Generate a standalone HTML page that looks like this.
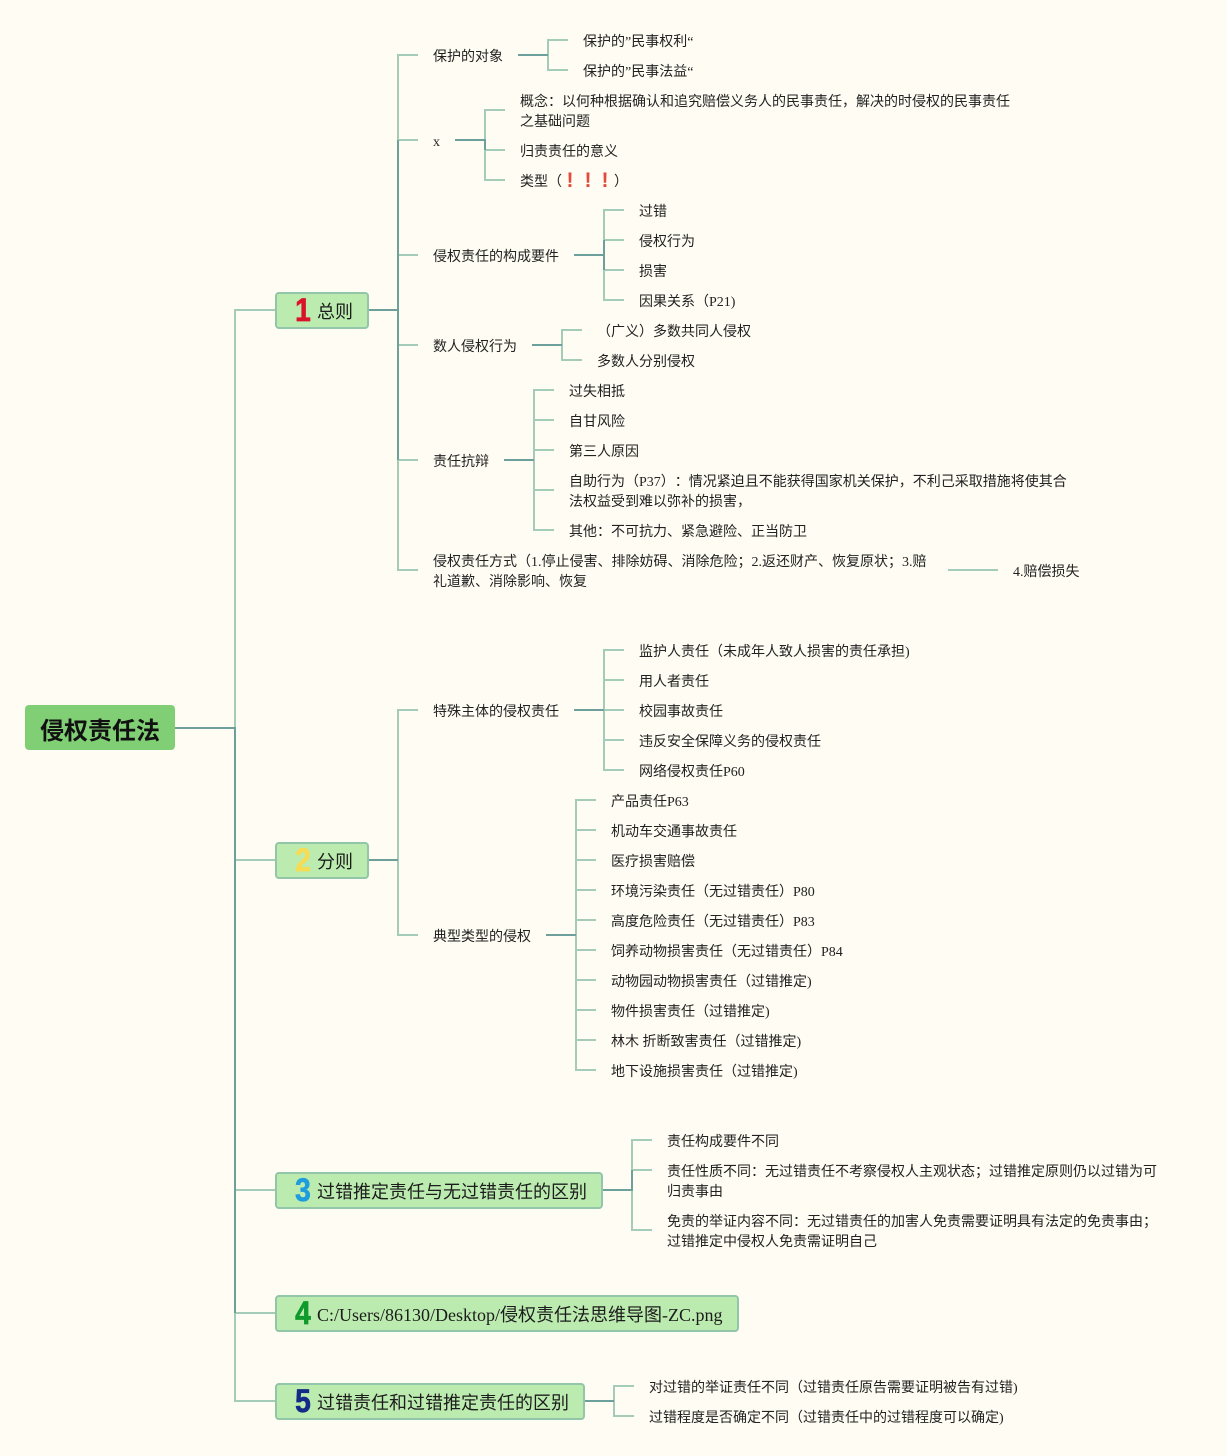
<!DOCTYPE html>
<html lang="zh"><head><meta charset="utf-8"><title>侵权责任法</title>
<style>
html,body{margin:0;padding:0}
body{width:1227px;height:1456px;background:#fffcf3;position:relative;overflow:hidden;font-family:"Liberation Serif","Noto Sans CJK SC",serif;color:#222;text-spacing-trim:space-all;font-kerning:none}
svg{position:absolute;left:0;top:0}
.t{position:absolute;font-size:14px;line-height:20px;white-space:nowrap;margin-top:2px}
.b{position:absolute;box-sizing:border-box;height:36.5px;background:#bcebb0;border:2px solid #93c6a8;border-radius:4px}
.h{position:absolute;font-size:18px;line-height:26px;white-space:nowrap;color:#1c1c1c}
.n{position:absolute;font-family:"Liberation Sans",sans-serif;font-weight:bold;font-size:32px;line-height:36px;width:20px;text-align:center;-webkit-text-stroke:.7px currentColor;transform:scaleX(.88)}
.e{position:absolute;color:#e24a3c;font:bold 21px/20px "Liberation Sans",sans-serif}
</style></head><body>
<svg width="1227" height="1456" fill="none" stroke-width="2">
<g stroke="#a5cbb9">
<path d="M235 728V310H275M235 860H275M235 1190H275M235 1313H275M235 1313V1401H275"/>
<path d="M418 55H398V140H418M398 255H418M398 345H418M418 570H398V460H418"/>
<path d="M568 40H548V70H568"/>
<path d="M505 110H485V180H505M485 150H505"/>
<path d="M624 210H604V300H624M604 240H624M604 270H624"/>
<path d="M582 330H562V360H582"/>
<path d="M554 390H534V530H554M534 420H554M534 450H554M534 490H554"/>
<path d="M948 570H998"/>
<path d="M418 710H398V935H418"/>
<path d="M624 650H604V770H624M604 680H624M604 710H624M604 740H624"/>
<path d="M596 800H576V1070H596M576 830H596M576 860H596M576 890H596M576 920H596M576 950H596M576 980H596M576 1010H596M576 1040H596"/>
<path d="M652 1140H632V1230H652M632 1170H652"/>
<path d="M634 1386H614V1416H634"/>
</g>
<g stroke="#6da09a">
<path d="M175 728H235V1313"/>
<path d="M368 310H398M398 140V460"/>
<path d="M518 55H548"/>
<path d="M455 140H485V150"/>
<path d="M574 255H604M604 240V270"/>
<path d="M532 345H562"/>
<path d="M504 460H534"/>
<path d="M368 860H398"/>
<path d="M574 710H604"/>
<path d="M546 935H576"/>
<path d="M602 1190H632V1170"/>
<path d="M584 1401H614"/>
</g>
</svg>

<div style="position:absolute;left:25px;top:705px;width:150px;height:45px;background:#80cf74;border-radius:4px"></div>
<div style="position:absolute;left:25px;top:705px;width:150px;text-align:center;font-size:24px;line-height:47px;font-weight:bold;color:#111;font-family:'Noto Sans CJK SC',sans-serif">侵权责任法</div>

<div class="b" style="left:275px;top:292px;width:93.5px"></div>
<div class="n" style="left:293px;top:292px;color:#d9142a">1</div>
<div class="h" style="left:317px;top:299px">总则</div>

<div class="b" style="left:275px;top:842px;width:93.5px"></div>
<div class="n" style="left:293px;top:842px;color:#f6dc55">2</div>
<div class="h" style="left:317px;top:849px">分则</div>

<div class="b" style="left:275px;top:1172px;width:327.5px"></div>
<div class="n" style="left:293px;top:1172px;color:#1f9cdb">3</div>
<div class="h" style="left:317px;top:1179px">过错推定责任与无过错责任的区别</div>

<div class="b" style="left:275px;top:1295px;width:463.5px"></div>
<div class="n" style="left:293px;top:1295px;color:#0f9a2c">4</div>
<div class="h" style="left:317px;top:1302px">C:/Users/86130/Desktop/侵权责任法思维导图-ZC.png</div>

<div class="b" style="left:275px;top:1383px;width:309.5px"></div>
<div class="n" style="left:293px;top:1383px;color:#152a86">5</div>
<div class="h" style="left:317px;top:1390px">过错责任和过错推定责任的区别</div>

<div class="t" style="left:433px;top:46px">保护的对象</div>
<div class="t" style="left:583px;top:31px">保护的”民事权利“</div>
<div class="t" style="left:583px;top:61px">保护的”民事法益“</div>
<div class="t" style="left:433px;top:131px">x</div>
<div class="t" style="left:520px;top:91px">概念：以何种根据确认和追究赔偿义务人的民事责任，解决的时侵权的民事责任<br>之基础问题</div>
<div class="t" style="left:520px;top:141px">归责责任的意义</div>
<div class="t" style="left:520px;top:171px">类型（</div>
<div class="e" style="left:566.5px;top:171px">!</div>
<div class="e" style="left:584.5px;top:171px">!</div>
<div class="e" style="left:601.5px;top:171px">!</div>
<div class="t" style="left:614px;top:171px">）</div>
<div class="t" style="left:433px;top:246px">侵权责任的构成要件</div>
<div class="t" style="left:639px;top:201px">过错</div>
<div class="t" style="left:639px;top:231px">侵权行为</div>
<div class="t" style="left:639px;top:261px">损害</div>
<div class="t" style="left:639px;top:291px">因果关系（P21)</div>
<div class="t" style="left:433px;top:336px">数人侵权行为</div>
<div class="t" style="left:597px;top:321px">（广义）多数共同人侵权</div>
<div class="t" style="left:597px;top:351px">多数人分别侵权</div>
<div class="t" style="left:433px;top:451px">责任抗辩</div>
<div class="t" style="left:569px;top:381px">过失相抵</div>
<div class="t" style="left:569px;top:411px">自甘风险</div>
<div class="t" style="left:569px;top:441px">第三人原因</div>
<div class="t" style="left:569px;top:471px">自助行为（P37）：情况紧迫且不能获得国家机关保护，不利己采取措施将使其合<br>法权益受到难以弥补的损害，</div>
<div class="t" style="left:569px;top:521px">其他：不可抗力、紧急避险、正当防卫</div>
<div class="t" style="left:433px;top:551px">侵权责任方式（1.停止侵害、排除妨碍、消除危险；2.返还财产、恢复原状；3.赔<br>礼道歉、消除影响、恢复</div>
<div class="t" style="left:1013px;top:561px">4.赔偿损失</div>

<div class="t" style="left:433px;top:701px">特殊主体的侵权责任</div>
<div class="t" style="left:639px;top:641px">监护人责任（未成年人致人损害的责任承担)</div>
<div class="t" style="left:639px;top:671px">用人者责任</div>
<div class="t" style="left:639px;top:701px">校园事故责任</div>
<div class="t" style="left:639px;top:731px">违反安全保障义务的侵权责任</div>
<div class="t" style="left:639px;top:761px">网络侵权责任P60</div>
<div class="t" style="left:433px;top:926px">典型类型的侵权</div>
<div class="t" style="left:611px;top:791px">产品责任P63</div>
<div class="t" style="left:611px;top:821px">机动车交通事故责任</div>
<div class="t" style="left:611px;top:851px">医疗损害赔偿</div>
<div class="t" style="left:611px;top:881px">环境污染责任（无过错责任）P80</div>
<div class="t" style="left:611px;top:911px">高度危险责任（无过错责任）P83</div>
<div class="t" style="left:611px;top:941px">饲养动物损害责任（无过错责任）P84</div>
<div class="t" style="left:611px;top:971px">动物园动物损害责任（过错推定)</div>
<div class="t" style="left:611px;top:1001px">物件损害责任（过错推定)</div>
<div class="t" style="left:611px;top:1031px">林木 折断致害责任（过错推定)</div>
<div class="t" style="left:611px;top:1061px">地下设施损害责任（过错推定)</div>

<div class="t" style="left:667px;top:1131px">责任构成要件不同</div>
<div class="t" style="left:667px;top:1161px">责任性质不同：无过错责任不考察侵权人主观状态；过错推定原则仍以过错为可<br>归责事由</div>
<div class="t" style="left:667px;top:1211px">免责的举证内容不同：无过错责任的加害人免责需要证明具有法定的免责事由；<br>过错推定中侵权人免责需证明自己</div>
<div class="t" style="left:649px;top:1377px">对过错的举证责任不同（过错责任原告需要证明被告有过错)</div>
<div class="t" style="left:649px;top:1407px">过错程度是否确定不同（过错责任中的过错程度可以确定)</div>
</body></html>
